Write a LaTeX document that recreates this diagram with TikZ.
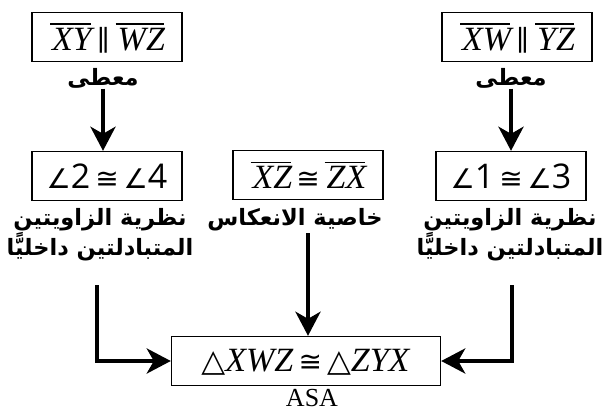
\documentclass[tikz,border=0pt]{standalone}
\usepackage{fontspec}
\setmainfont{Liberation Serif}
\newfontfamily\arabicfont[Script=Arabic]{DejaVu Sans}
\newfontfamily\numfont{Open Sans}
\newfontfamily\symfont{DejaVu Sans}
\newfontfamily\relfont{DejaVu Serif}
\usepackage{tikz}
\usetikzlibrary{positioning, arrows.meta}
\TeXXeTstate=1
\newcommand{\stmtSize}{\fontsize{34}{36}\selectfont}
\newcommand{\reasonSize}{\fontsize{22.5}{30}\selectfont}
\tikzstyle{stmt}=[draw, line width=1.4pt, minimum width=150pt, minimum height=49pt, inner sep=0pt, font=\stmtSize]
\tikzstyle{reason}=[font=\arabicfont\bfseries\reasonSize, align=center, inner sep=0pt]
\tikzstyle{arrow}=[-{Stealth[length=24pt,width=25pt,inset=7pt]}, line width=4pt]
% segment with bar, and relation signs taken from text fonts
\newcommand{\seg}[1]{\leavevmode\vbox{\hrule height 1.4pt\kern 3pt\hbox{\kern2pt\itshape #1\kern-1pt}}}
\newcommand{\ang}{{\symfont\fontsize{27}{30}\selectfont ∠}}
\newcommand{\cng}{\hspace{5pt}\smash{\symfont\fontsize{28}{30}\selectfont ≅}\hspace{5pt}}
\newcommand{\prl}{\hspace{6pt}\smash{\relfont\fontsize{28}{30}\selectfont ∥}\hspace{6pt}}
\newcommand{\tri}{\smash{\relfont\fontsize{31}{30}\selectfont △}}

\begin{document}
\begin{tikzpicture}[x=1pt, y=1pt]
  \useasboundingbox (0,0) rectangle (605,-417);
  % givens
  \node[stmt] (givenA) at (107,-37) {\seg{XY}\prl\seg{WZ}};
  \node[stmt] (givenB) at (517,-37) {\seg{XW}\prl\seg{YZ}};
  \node[reason, below=6pt of givenA, xshift=-4pt] (givenTxtA) {\beginR معطى\endR};
  \node[reason, below=6pt of givenB, xshift=-6pt] (givenTxtB) {\beginR معطى\endR};
  % middle row
  \node[stmt, font=\numfont\stmtSize] (angA) at (107,-176) {\ang2\cng\ang4};
  \node[stmt] (refl) at (308,-175) {\seg{XZ}\cng\seg{ZX}};
  \node[stmt, font=\numfont\stmtSize] (angB) at (511,-176) {\ang1\cng\ang3};
  \node[reason, below=7pt of angA, xshift=-7pt] (altA) {\beginR نظرية الزاويتين\endR\\\beginR المتبادلتين داخليًّا\endR};
  \node[reason, below=7pt of angB, xshift=-1pt] (altB) {\beginR نظرية الزاويتين\endR\\\beginR المتبادلتين داخليًّا\endR};
  \node[reason, below=8pt of refl, xshift=-13pt] (reflTxt) {\beginR خاصية الانعكاس\endR};
  % conclusion
  \node[stmt, minimum width=269pt] (concl) at (306,-361) {\tri\textit{XWZ}\cng\tri\textit{ZYX}};
  \node[font=\fontsize{26}{28}\selectfont, below=0pt of concl, xshift=6pt] (asa) {ASA};
  % connectors
  \draw[arrow] (givenTxtA.south) -- (givenTxtA.south |- angA.north);
  \draw[arrow] (givenTxtB.south) -- (givenTxtB.south |- angB.north);
  \draw[arrow] (refl.south |- reflTxt.south) ++(0,-2) -- (refl.south |- concl.north);
  \draw[arrow] ([shift={(-3,-24)}]altA.south) |- (concl.west);
  \draw[arrow] ([shift={(2,-24)}]altB.south) |- (concl.east);
\end{tikzpicture}
\end{document}
